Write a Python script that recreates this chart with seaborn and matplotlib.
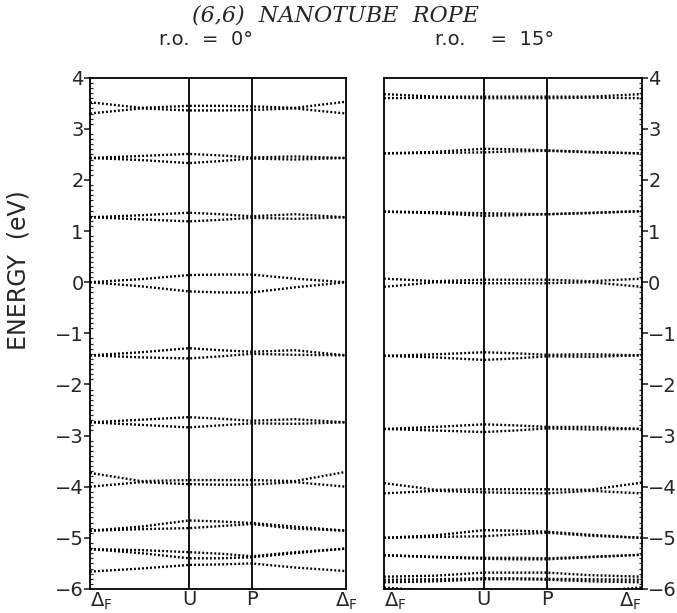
import numpy as np
import pandas as pd
import matplotlib
matplotlib.use("Agg")
import matplotlib.pyplot as plt
from matplotlib.ticker import MultipleLocator
import seaborn as sns

# positions along the path Delta_F - U - P - Delta_F (fraction of path)
k_nodes = [0.0, 0.2, 0.387, 0.51, 0.632, 0.8, 1.0]
k_ticks = [0.0, 0.387, 0.632, 1.0]
k_labels = [r"$\Delta_{\mathsf{F}}$", "U", "P", r"$\Delta_{\mathsf{F}}$"]

# r.o. = 0 deg : band energies (eV) at k_nodes
ro0_g34 = [[3.52, 3.41, 3.45, 3.45, 3.44, 3.41, 3.53],
           [3.30, 3.40, 3.36, 3.36, 3.37, 3.40, 3.30]]
ro0_g24 = [[2.43, 2.47, 2.51, 2.48, 2.44, 2.46, 2.43],
           [2.43, 2.39, 2.33, 2.37, 2.42, 2.40, 2.43]]
ro0_g13 = [[1.27, 1.31, 1.36, 1.33, 1.29, 1.33, 1.27],
           [1.27, 1.23, 1.19, 1.22, 1.26, 1.24, 1.27]]
ro0_g00 = [[0.00, 0.06, 0.14, 0.15, 0.15, 0.07, 0.00],
           [0.00, -0.08, -0.18, -0.20, -0.20, -0.10, 0.00]]
ro0_gm14 = [[-1.43, -1.37, -1.29, -1.33, -1.36, -1.33, -1.43],
            [-1.43, -1.47, -1.49, -1.45, -1.40, -1.42, -1.43]]
ro0_gm27 = [[-2.74, -2.69, -2.64, -2.67, -2.71, -2.68, -2.74],
            [-2.74, -2.79, -2.84, -2.80, -2.76, -2.77, -2.74]]
ro0_gm39 = [[-3.73, -3.89, -3.87, -3.87, -3.87, -3.89, -3.71],
            [-4.00, -3.91, -3.95, -3.96, -3.96, -3.91, -4.00]]
ro0_gm48 = [[-4.86, -4.78, -4.66, -4.68, -4.71, -4.78, -4.86],
            [-4.86, -4.83, -4.81, -4.77, -4.73, -4.82, -4.86]]
ro0_gm54 = [[-5.22, -5.24, -5.28, -5.31, -5.36, -5.28, -5.21],
            [-5.22, -5.30, -5.40, -5.40, -5.38, -5.30, -5.21],
            [-5.66, -5.60, -5.53, -5.52, -5.50, -5.58, -5.65]]

# r.o. = 15 deg
ro15_g36 = [[3.68, 3.63, 3.63, 3.63, 3.63, 3.63, 3.68],
            [3.60, 3.61, 3.60, 3.60, 3.60, 3.61, 3.60]]
ro15_g25 = [[2.52, 2.55, 2.61, 2.60, 2.58, 2.55, 2.52],
            [2.52, 2.53, 2.54, 2.56, 2.57, 2.54, 2.52]]
ro15_g14 = [[1.38, 1.37, 1.35, 1.34, 1.33, 1.36, 1.39],
            [1.38, 1.35, 1.30, 1.31, 1.33, 1.35, 1.39]]
ro15_g00 = [[0.07, 0.02, 0.05, 0.05, 0.05, 0.02, 0.07],
            [-0.09, 0.00, -0.02, -0.02, -0.02, 0.00, -0.09]]
ro15_gm14 = [[-1.44, -1.41, -1.37, -1.39, -1.42, -1.41, -1.43],
             [-1.44, -1.47, -1.52, -1.49, -1.45, -1.46, -1.43]]
ro15_gm29 = [[-2.87, -2.83, -2.78, -2.80, -2.83, -2.83, -2.87],
             [-2.87, -2.90, -2.93, -2.90, -2.86, -2.88, -2.87]]
ro15_gm40 = [[-3.93, -4.06, -4.05, -4.05, -4.05, -4.06, -3.92],
             [-4.13, -4.08, -4.11, -4.12, -4.13, -4.08, -4.13]]
ro15_gm49 = [[-5.00, -4.95, -4.85, -4.86, -4.88, -4.94, -5.00],
             [-5.00, -4.98, -4.97, -4.93, -4.90, -4.96, -5.00]]
ro15_gm53 = [[-5.34, -5.37, -5.39, -5.39, -5.40, -5.37, -5.33],
             [-5.34, -5.38, -5.41, -5.42, -5.42, -5.38, -5.33]]
ro15_gm58 = [[-5.76, -5.74, -5.68, -5.68, -5.68, -5.73, -5.76],
             [-5.82, -5.81, -5.79, -5.79, -5.80, -5.81, -5.82],
             [-5.87, -5.85, -5.81, -5.81, -5.82, -5.85, -5.87],
             [-5.97, -6.05, -6.20, -6.20, -6.20, -6.05, -5.97]]

panels = {
    "0": ro0_g34 + ro0_g24 + ro0_g13 + ro0_g00 + ro0_gm14 + ro0_gm27
         + ro0_gm39 + ro0_gm48 + ro0_gm54,
    "15": ro15_g36 + ro15_g25 + ro15_g14 + ro15_g00 + ro15_gm14 + ro15_gm29
          + ro15_gm40 + ro15_gm49 + ro15_gm53 + ro15_gm58,
}

rows = []
for ro, bands in panels.items():
    for b, band in enumerate(bands):
        for k, e in zip(k_nodes, band):
            rows.append({"ro": ro, "band": b, "k": k, "E": e})
df = pd.DataFrame(rows)

sns.set_style("white")
plt.rcParams["font.family"] = ["DejaVu Sans"]
plt.rcParams["mathtext.fontset"] = "dejavusans"
plt.rcParams["axes.unicode_minus"] = True

fig = plt.figure(figsize=(6.77, 6.13), dpi=100)
ax1 = fig.add_axes([0.1329, 0.0392, 0.378, 0.834])
ax2 = fig.add_axes([0.5672, 0.0392, 0.381, 0.834])

for ax, ro in [(ax1, "0"), (ax2, "15")]:
    sns.lineplot(data=df[df["ro"] == ro], x="k", y="E", units="band",
                 estimator=None, color="black", lw=1.7,
                 linestyle=(0, (0.8, 0.9)), ax=ax)
    for kv in k_ticks[1:3]:
        ax.axvline(kv, color="black", lw=1.3)
    ax.set_xlim(0, 1)
    ax.set_ylim(-6, 4)
    ax.set_xlabel("")
    ax.set_ylabel("")
    ax.set_xticks(k_ticks)
    ax.set_xticklabels(k_labels, fontsize=14)
    ax.tick_params(axis="x", length=0, pad=1)
    ax.yaxis.set_major_locator(MultipleLocator(1))
    ax.yaxis.set_minor_locator(MultipleLocator(0.1))
    ax.tick_params(axis="y", which="major", direction="out", length=4,
                   width=1.2, labelsize=14, pad=0.5)
    ax.tick_params(axis="y", which="minor", direction="in", length=2.5,
                   width=0.9)
    for s in ax.spines.values():
        s.set_linewidth(1.3)
        s.set_color("black")

ax1.tick_params(axis="y", which="both", left=True, right=False)
ax2.yaxis.tick_right()
ax2.tick_params(axis="y", which="both", left=False, right=True)

for ax in (ax1, ax2):
    labs = ax.get_xticklabels()
    labs[0].set_ha("left")
ax2.get_xticklabels()[-1].set_ha("right")

fig.text(0.495, 0.975, "(6,6)  NANOTUBE  ROPE", ha="center", va="center",
         fontsize=16, style="italic", family="DejaVu Serif")
fig.text(0.305, 0.935, "r.o.  =  0°", ha="center", va="center", fontsize=14)
fig.text(0.73, 0.935, "r.o.    =  15°", ha="center", va="center", fontsize=14)
fig.text(0.028, 0.56, "ENERGY  (eV)", ha="center", va="center",
         rotation=90, fontsize=17)

fig.savefig("out.png", dpi=100)
